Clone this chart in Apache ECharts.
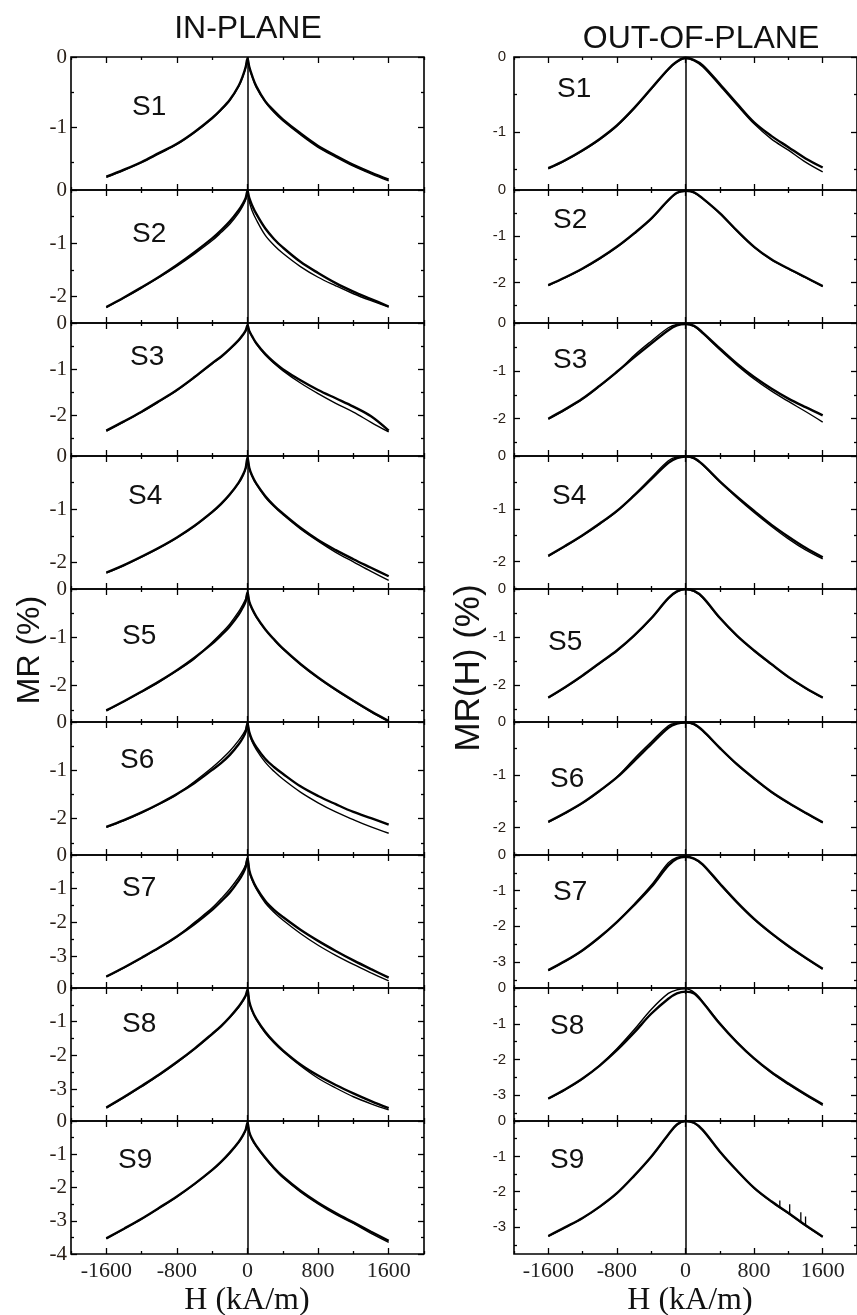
<!DOCTYPE html>
<html><head><meta charset="utf-8">
<script src="https://cdn.jsdelivr.net/npm/echarts@6/dist/echarts.min.js"></script>
<style>html,body{margin:0;padding:0;background:#fff}#c{width:857px;height:1315px}</style>
</head><body><div id="c"></div>
<script>
// ---------- DATA ----------
const SAMPLES = ['S1','S2','S3','S4','S5','S6','S7','S8','S9'];
const H_IN  = [-1600,-1400,-1200,-1000,-800,-600,-400,-300,-200,-100,-50,-20,0,20,50,100,200,300,400,600,800,1000,1200,1400,1600];
const H_OUT = [-1600,-1400,-1200,-1000,-800,-600,-400,-200,-100,0,100,200,400,600,800,1000,1200,1400,1600];

// in-plane MR (%) : two field sweeps per sample
const IN_S1_A = [-1.71,-1.61,-1.50,-1.37,-1.24,-1.07,-0.87,-0.75,-0.61,-0.41,-0.26,-0.14,-0.02,-0.14,-0.26,-0.42,-0.63,-0.77,-0.89,-1.09,-1.27,-1.41,-1.54,-1.65,-1.75];
const IN_S1_B = [-1.72,-1.62,-1.51,-1.38,-1.25,-1.08,-0.88,-0.76,-0.62,-0.42,-0.27,-0.15,-0.03,-0.15,-0.27,-0.43,-0.64,-0.79,-0.91,-1.11,-1.29,-1.43,-1.56,-1.67,-1.77];
const IN_S2_A = [-2.20,-2.02,-1.83,-1.63,-1.41,-1.17,-0.91,-0.76,-0.59,-0.38,-0.25,-0.15,-0.02,-0.15,-0.28,-0.45,-0.72,-0.92,-1.08,-1.35,-1.56,-1.75,-1.91,-2.05,-2.19];
const IN_S2_B = [-2.21,-2.03,-1.84,-1.64,-1.43,-1.20,-0.95,-0.80,-0.64,-0.43,-0.29,-0.18,-0.03,-0.22,-0.38,-0.56,-0.85,-1.04,-1.19,-1.44,-1.64,-1.80,-1.95,-2.08,-2.20];
const IN_S3_A = [-2.33,-2.13,-1.92,-1.69,-1.45,-1.17,-0.87,-0.73,-0.56,-0.37,-0.25,-0.16,-0.05,-0.17,-0.28,-0.44,-0.67,-0.85,-1.00,-1.24,-1.45,-1.63,-1.81,-2.02,-2.33];
const IN_S3_B = [-2.34,-2.14,-1.93,-1.70,-1.46,-1.18,-0.88,-0.74,-0.57,-0.38,-0.26,-0.17,-0.06,-0.17,-0.29,-0.45,-0.69,-0.87,-1.03,-1.30,-1.53,-1.74,-1.93,-2.15,-2.36];
const IN_S4_A = [-2.19,-2.05,-1.89,-1.72,-1.53,-1.31,-1.05,-0.90,-0.72,-0.50,-0.35,-0.22,-0.03,-0.22,-0.36,-0.52,-0.75,-0.93,-1.08,-1.35,-1.58,-1.77,-1.94,-2.10,-2.26];
const IN_S4_B = [-2.20,-2.06,-1.90,-1.73,-1.54,-1.32,-1.06,-0.91,-0.73,-0.51,-0.36,-0.23,-0.04,-0.23,-0.37,-0.53,-0.77,-0.95,-1.10,-1.37,-1.60,-1.81,-1.99,-2.17,-2.34];
const IN_S5_A = [-2.51,-2.32,-2.12,-1.91,-1.68,-1.42,-1.13,-0.96,-0.77,-0.53,-0.37,-0.25,-0.07,-0.26,-0.40,-0.57,-0.83,-1.04,-1.23,-1.55,-1.83,-2.08,-2.31,-2.53,-2.73];
const IN_S5_B = [-2.52,-2.33,-2.13,-1.92,-1.69,-1.44,-1.10,-0.92,-0.72,-0.47,-0.31,-0.20,-0.08,-0.27,-0.41,-0.58,-0.84,-1.05,-1.24,-1.56,-1.84,-2.09,-2.32,-2.54,-2.74];
const IN_S6_A = [-2.17,-2.03,-1.87,-1.69,-1.49,-1.26,-0.99,-0.85,-0.68,-0.46,-0.32,-0.20,-0.03,-0.21,-0.36,-0.52,-0.76,-0.93,-1.07,-1.33,-1.53,-1.70,-1.86,-1.99,-2.12];
const IN_S6_B = [-2.18,-2.04,-1.88,-1.70,-1.50,-1.23,-0.94,-0.78,-0.60,-0.38,-0.25,-0.15,-0.02,-0.23,-0.40,-0.57,-0.83,-1.02,-1.18,-1.45,-1.67,-1.86,-2.02,-2.17,-2.30];
const IN_S7_A = [-3.61,-3.34,-3.05,-2.75,-2.42,-2.05,-1.63,-1.38,-1.11,-0.76,-0.54,-0.35,-0.10,-0.45,-0.70,-0.97,-1.36,-1.63,-1.84,-2.22,-2.55,-2.85,-3.13,-3.39,-3.64];
const IN_S7_B = [-3.62,-3.35,-3.06,-2.76,-2.43,-2.00,-1.57,-1.30,-1.01,-0.66,-0.45,-0.28,-0.08,-0.47,-0.73,-1.01,-1.42,-1.70,-1.93,-2.33,-2.68,-2.98,-3.25,-3.50,-3.74];
const IN_S8_A = [-3.55,-3.24,-2.91,-2.57,-2.20,-1.80,-1.36,-1.13,-0.86,-0.55,-0.36,-0.22,-0.05,-0.40,-0.65,-0.92,-1.30,-1.60,-1.85,-2.27,-2.60,-2.88,-3.13,-3.36,-3.57];
const IN_S8_B = [-3.57,-3.26,-2.93,-2.59,-2.22,-1.82,-1.38,-1.15,-0.88,-0.57,-0.38,-0.24,-0.06,-0.42,-0.67,-0.94,-1.33,-1.63,-1.88,-2.31,-2.68,-2.97,-3.23,-3.44,-3.62];
const IN_S9_A = [-3.53,-3.24,-2.94,-2.61,-2.27,-1.89,-1.47,-1.23,-0.95,-0.63,-0.42,-0.26,-0.05,-0.33,-0.53,-0.75,-1.10,-1.41,-1.67,-2.10,-2.46,-2.77,-3.05,-3.33,-3.60];
const IN_S9_B = [-3.54,-3.25,-2.95,-2.62,-2.28,-1.90,-1.48,-1.24,-0.96,-0.64,-0.43,-0.27,-0.06,-0.34,-0.54,-0.77,-1.12,-1.43,-1.70,-2.13,-2.49,-2.81,-3.08,-3.38,-3.65];

// out-of-plane MR(H) (%)
const OUT_S1_A = [-1.48,-1.37,-1.24,-1.09,-0.91,-0.68,-0.42,-0.16,-0.06,-0.01,-0.04,-0.11,-0.36,-0.62,-0.87,-1.05,-1.20,-1.35,-1.47];
const OUT_S1_B = [-1.49,-1.38,-1.25,-1.10,-0.92,-0.69,-0.43,-0.17,-0.07,-0.02,-0.05,-0.13,-0.38,-0.64,-0.89,-1.09,-1.24,-1.40,-1.53];
const OUT_S2_A = [-2.06,-1.89,-1.70,-1.48,-1.23,-0.94,-0.62,-0.22,-0.06,-0.02,-0.05,-0.18,-0.50,-0.88,-1.23,-1.50,-1.70,-1.89,-2.08];
const OUT_S2_B = [-2.07,-1.90,-1.71,-1.49,-1.24,-0.95,-0.63,-0.23,-0.07,-0.03,-0.06,-0.19,-0.51,-0.89,-1.24,-1.51,-1.71,-1.90,-2.09];
const OUT_S3_A = [-2.00,-1.80,-1.58,-1.31,-1.02,-0.72,-0.43,-0.15,-0.05,-0.02,-0.06,-0.20,-0.53,-0.85,-1.13,-1.37,-1.58,-1.76,-1.93];
const OUT_S3_B = [-2.01,-1.81,-1.59,-1.32,-1.03,-0.68,-0.38,-0.10,-0.03,-0.02,-0.07,-0.22,-0.56,-0.88,-1.17,-1.42,-1.64,-1.85,-2.07];
const OUT_S4_A = [-1.89,-1.70,-1.50,-1.28,-1.04,-0.75,-0.44,-0.13,-0.04,-0.01,-0.04,-0.16,-0.48,-0.77,-1.04,-1.30,-1.53,-1.74,-1.92];
const OUT_S4_B = [-1.90,-1.71,-1.51,-1.29,-1.05,-0.74,-0.41,-0.09,-0.02,-0.01,-0.05,-0.17,-0.49,-0.79,-1.07,-1.33,-1.57,-1.78,-1.95];
const OUT_S5_A = [-2.26,-2.04,-1.80,-1.54,-1.28,-0.97,-0.61,-0.19,-0.05,0.00,-0.04,-0.17,-0.60,-0.97,-1.28,-1.56,-1.83,-2.06,-2.26];
const OUT_S5_B = [-2.27,-2.05,-1.81,-1.55,-1.29,-0.98,-0.62,-0.20,-0.06,-0.01,-0.05,-0.18,-0.61,-0.98,-1.29,-1.57,-1.84,-2.07,-2.27];
const OUT_S6_A = [-1.89,-1.72,-1.53,-1.30,-1.05,-0.74,-0.42,-0.11,-0.03,-0.01,-0.04,-0.16,-0.49,-0.80,-1.07,-1.32,-1.53,-1.72,-1.90];
const OUT_S6_B = [-1.90,-1.73,-1.54,-1.31,-1.04,-0.70,-0.38,-0.07,-0.02,-0.01,-0.05,-0.17,-0.50,-0.81,-1.08,-1.33,-1.54,-1.73,-1.91];
const OUT_S7_A = [-3.23,-2.97,-2.67,-2.30,-1.88,-1.41,-0.90,-0.29,-0.10,-0.05,-0.10,-0.26,-0.80,-1.32,-1.79,-2.19,-2.55,-2.88,-3.19];
const OUT_S7_B = [-3.24,-2.98,-2.68,-2.31,-1.87,-1.38,-0.85,-0.22,-0.07,-0.04,-0.11,-0.28,-0.82,-1.34,-1.81,-2.21,-2.57,-2.89,-3.20];
const OUT_S8_A = [-3.09,-2.83,-2.53,-2.17,-1.74,-1.25,-0.72,-0.30,-0.15,-0.10,-0.15,-0.40,-1.00,-1.52,-1.97,-2.35,-2.67,-2.97,-3.25];
const OUT_S8_B = [-3.10,-2.84,-2.54,-2.16,-1.70,-1.17,-0.60,-0.15,-0.05,-0.02,-0.12,-0.38,-0.98,-1.51,-1.98,-2.37,-2.70,-3.00,-3.28];
const OUT_S9_A = [-3.25,-3.00,-2.74,-2.42,-2.04,-1.55,-1.01,-0.38,-0.10,0.00,-0.05,-0.25,-0.86,-1.40,-1.89,-2.27,-2.60,-2.95,-3.27];
const OUT_S9_B = [-3.26,-3.01,-2.75,-2.43,-2.05,-1.56,-1.02,-0.39,-0.11,-0.01,-0.06,-0.26,-0.87,-1.41,-1.90,-2.28,-2.61,-2.96,-3.28];
// noise spikes in out-of-plane S9
const OUT_S9_SPIKE_H  = [1100,1215,1345,1400];
const OUT_S9_SPIKE_LO = [-2.45,-2.62,-2.86,-2.95];
const OUT_S9_SPIKE_HI = [-2.25,-2.35,-2.58,-2.70];

// axis ranges and ticks
const X_MIN = -2000, X_MAX = 2000;
const X_MAJOR = [-1600,-800,0,800,1600];
const X_MINOR = [-2000,-1200,-400,400,1200,2000];
const IN_YMIN  = [-1.9,-2.5,-2.88,-2.5,-2.75,-2.75,-3.95,-3.95,-4];
const OUT_YMIN = [-1.77,-2.88,-2.78,-2.52,-2.77,-2.52,-3.73,-3.72,-3.76];

const IN_A  = [IN_S1_A,IN_S2_A,IN_S3_A,IN_S4_A,IN_S5_A,IN_S6_A,IN_S7_A,IN_S8_A,IN_S9_A];
const IN_B  = [IN_S1_B,IN_S2_B,IN_S3_B,IN_S4_B,IN_S5_B,IN_S6_B,IN_S7_B,IN_S8_B,IN_S9_B];
const OUT_A = [OUT_S1_A,OUT_S2_A,OUT_S3_A,OUT_S4_A,OUT_S5_A,OUT_S6_A,OUT_S7_A,OUT_S8_A,OUT_S9_A];
const OUT_B = [OUT_S1_B,OUT_S2_B,OUT_S3_B,OUT_S4_B,OUT_S5_B,OUT_S6_B,OUT_S7_B,OUT_S8_B,OUT_S9_B];

// ---------- LAYOUT ----------
const COLS = [
  {left:71,  width:353, H:H_IN,  A:IN_A,  B:IN_B,  ymin:IN_YMIN,
   yFont:{fontFamily:'"Liberation Serif", serif', fontSize:21, margin:4},
   labelPos:[[132,107],[132,234],[130,357],[128,496],[122,636],[120,760],[122,888],[122,1024],[118,1160]]},
  {left:514, width:354, H:H_OUT, A:OUT_A, B:OUT_B, ymin:OUT_YMIN,
   yFont:{fontFamily:'"Liberation Sans", Arial, sans-serif', fontSize:15, margin:8},
   labelPos:[[557,89],[553,220],[553,360],[552,496],[548,642],[550,779],[553,892],[550,1026],[550,1160]]}
];
const TOP0 = 57, PANEL_H = 133;
const INK = '#111';
const TICK = {color:'#000', width:1.3};
const NOLINE = {show:false, onZero:false};

const grids = [], xAxes = [], yAxes = [], series = [], graphics = [];

function majors(min){ const v=[]; for(let k=0;k>=min-1e-9;k-=1) v.push(k===0?0:k); return v; }
function minors(min){ const v=[]; for(let k=-0.5;k>min+1e-9;k-=1) v.push(k); return v; }

COLS.forEach((col, c) => {
  for (let i = 0; i < 9; i++) {
    const g = grids.length;
    grids.push({left:col.left, top:TOP0 + i*PANEL_H, width:col.width, height:PANEL_H,
      show:true, borderColor:'#000', borderWidth:1.6, backgroundColor:'transparent'});
    const last = i === 8;
    const xBase = {gridIndex:g, type:'value', min:X_MIN, max:X_MAX,
      axisLine:NOLINE, splitLine:{show:false}};
    const xi = xAxes.length;
    xAxes.push(Object.assign({}, xBase, {position:'bottom',
      axisTick:{inside:true, length:6, customValues:X_MAJOR, lineStyle:TICK},
      axisLabel:{show:last, customValues:X_MAJOR, margin:6, fontFamily:'"Liberation Serif", serif', fontSize:22, color:'#222',
        formatter: v => String(Math.round(v))}}));
    xAxes.push(Object.assign({}, xBase, {position:'bottom',
      axisTick:{inside:true, length:3, customValues:X_MINOR, lineStyle:TICK}, axisLabel:{show:false}}));
    xAxes.push(Object.assign({}, xBase, {position:'top',
      axisTick:{inside:true, length:6, customValues:X_MAJOR, lineStyle:TICK}, axisLabel:{show:false}}));
    xAxes.push(Object.assign({}, xBase, {position:'top',
      axisTick:{inside:true, length:3, customValues:X_MINOR, lineStyle:TICK}, axisLabel:{show:false}}));

    const ymin = col.ymin[i];
    const yBase = {gridIndex:g, type:'value', min:ymin, max:0, axisLine:NOLINE, splitLine:{show:false}};
    const yi = yAxes.length;
    yAxes.push(Object.assign({}, yBase, {position:'left',
      axisTick:{inside:true, length:6, customValues:majors(ymin), lineStyle:TICK},
      axisLabel:{customValues:majors(ymin), color:'#2a2018', fontFamily:col.yFont.fontFamily, fontSize:col.yFont.fontSize, margin:col.yFont.margin,
        formatter: v => String(Math.round(v))}}));
    yAxes.push(Object.assign({}, yBase, {position:'left',
      axisTick:{inside:true, length:3, customValues:minors(ymin), lineStyle:TICK}, axisLabel:{show:false}}));
    yAxes.push(Object.assign({}, yBase, {position:'right',
      axisTick:{inside:true, length:6, customValues:majors(ymin), lineStyle:TICK}, axisLabel:{show:false}}));
    yAxes.push(Object.assign({}, yBase, {position:'right',
      axisTick:{inside:true, length:3, customValues:minors(ymin), lineStyle:TICK}, axisLabel:{show:false}}));

    const lineCommon = {type:'line', xAxisIndex:xi, yAxisIndex:yi, symbol:'none', showSymbol:false,
      smooth:0.35, animation:false, silent:true};
    series.push(Object.assign({}, lineCommon, {
      data: col.H.map((h,k)=>[h, col.B[i][k]]), lineStyle:{color:'#000', width:1.4}, z:3}));
    series.push(Object.assign({}, lineCommon, {
      data: col.H.map((h,k)=>[h, col.A[i][k]]), lineStyle:{color:'#000', width:2.4}, z:4,
      markLine:{silent:true, symbol:['none','none'], animation:false, label:{show:false},
        lineStyle:{color:'#000', width:1.5, type:'solid'}, data:[{xAxis:0}]}}));

    if (c === 1 && i === 8) {
      const spikeData = [];
      OUT_S9_SPIKE_H.forEach((h,k)=>{ spikeData.push([h, OUT_S9_SPIKE_LO[k]], [h, OUT_S9_SPIKE_HI[k]], [h, null]); });
      series.push({type:'line', xAxisIndex:xi, yAxisIndex:yi, symbol:'none', animation:false, silent:true,
        connectNulls:false, data:spikeData, lineStyle:{color:'#000', width:1.3}, z:4});
    }

    const lp = col.labelPos[i];
    graphics.push({type:'text', x:lp[0], y:lp[1], silent:true,
      style:{text:SAMPLES[i], font:'28px "Liberation Sans", Arial, sans-serif', fill:INK,
        align:'left', verticalAlign:'middle', textAlign:'left', textVerticalAlign:'middle'}});
  }
});

// titles and axis names
function txt(t, x, y, font, rot){
  return {type:'text', x:x, y:y, rotation:rot||0, silent:true,
    style:{text:t, font:font, fill:INK, align:'center', verticalAlign:'middle', textAlign:'center', textVerticalAlign:'middle'}};
}
graphics.push(txt('IN-PLANE', 248, 29, '32px "Liberation Sans", Arial, sans-serif'));
graphics.push(txt('OUT-OF-PLANE', 701, 39, '32px "Liberation Sans", Arial, sans-serif'));
graphics.push(txt('MR (%)', 30, 650, '32px "Liberation Sans", Arial, sans-serif', Math.PI/2));
graphics.push(txt('MR(H) (%)', 469, 668, '35px "Liberation Sans", Arial, sans-serif', Math.PI/2));
graphics.push(txt('H (kA/m)', 247, 1301, '32px "Liberation Serif", "Times New Roman", serif'));
graphics.push(txt('H (kA/m)', 690, 1301, '32px "Liberation Serif", "Times New Roman", serif'));

const chart = echarts.init(document.getElementById('c'), null, {renderer:'canvas'});
chart.setOption({animation:false, backgroundColor:'#fff', grid:grids, xAxis:xAxes, yAxis:yAxes, series:series, graphic:graphics});
</script></body></html>
